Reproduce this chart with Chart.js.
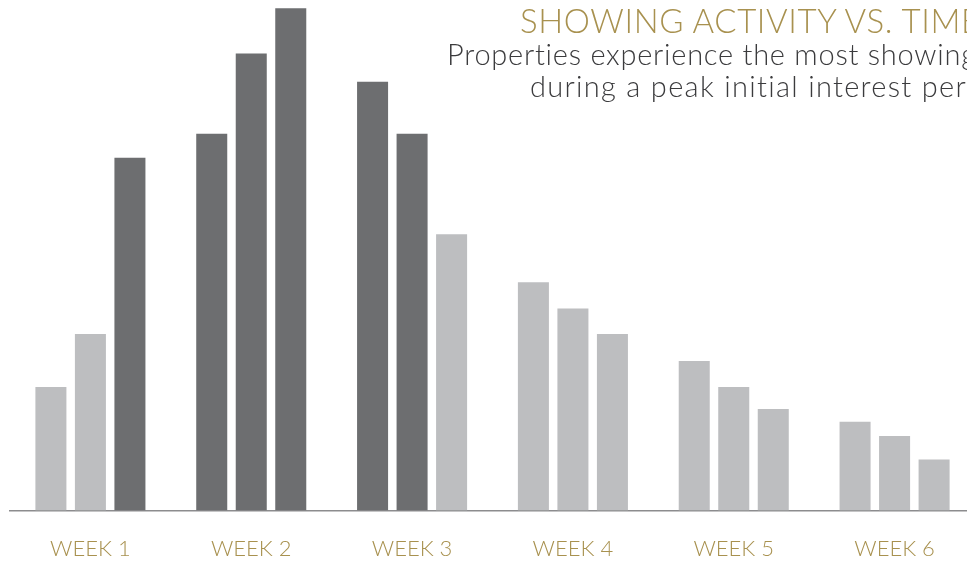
<!DOCTYPE html>
<html>
<head>
<meta charset="utf-8">
<script src="https://cdn.jsdelivr.net/npm/chart.js@4.4.1/dist/chart.umd.min.js"></script>
<style>
  html, body { margin: 0; padding: 0; background: #fff; overflow: hidden; }
  #wrap { position: relative; width: 975px; height: 562px; overflow: hidden; }
  .txt { position: absolute; white-space: nowrap; font-family: Lato, sans-serif; font-weight: 300; }
  #title { left: 520px; top: 0px; font-size: 33px; color: #a8914f; letter-spacing: 0.6px; }
  #sub1 { left: 447px; top: 36px; font-size: 29px; color: #3b3b3d; letter-spacing: 0.75px; }
  #sub2 { left: 530px; top: 68px; font-size: 29px; color: #3b3b3d; letter-spacing: 1.3px; }
</style>
</head>
<body>
<div id="wrap">
  <canvas id="bars" width="975" height="587"></canvas>
  <div class="txt" id="title">SHOWING ACTIVITY VS. TIME</div>
  <div class="txt" id="sub1">Properties experience the most showings</div>
  <div class="txt" id="sub2">during a peak initial interest period.</div>
</div>
<script>
// data
const weeks = ['WEEK 1', 'WEEK 2', 'WEEK 3', 'WEEK 4', 'WEEK 5', 'WEEK 6'];
const firstBar = [24.2, 73.8, 84.0, 44.7, 29.3, 17.4];
const secondBar = [34.6, 89.5, 73.8, 39.6, 24.2, 14.6];
const thirdBar = [69.1, 98.4, 54.1, 34.6, 19.9, 10.0];

// colours
const dark = '#6d6e70';
const light = '#bdbec0';
const firstColors = [light, dark, dark, light, light, light];
const secondColors = [light, dark, dark, light, light, light];
const thirdColors = [dark, dark, light, light, light, light];

function barSet(values, colors) {
  return {
    data: values,
    backgroundColor: colors,
    borderWidth: 0,
    categoryPercentage: 0.737,
    barPercentage: 0.785
  };
}

let ctx = document.getElementById('bars');

let chart = new Chart(ctx, {
  type: 'bar',
  data: {
    labels: weeks,
    datasets: [
      barSet(firstBar, firstColors),
      barSet(secondBar, secondColors),
      barSet(thirdBar, thirdColors)
    ]
  },
  options: {
    responsive: false,
    animation: false,
    layout: { padding: { left: 10, right: 0, top: 0, bottom: 0 } },
    plugins: {
      legend: { display: false },
      tooltip: { enabled: false }
    },
    scales: {
      x: {
        grid: { display: false, drawTicks: false },
        border: { display: true, color: '#8c8c8e', width: 1.5 },
        ticks: {
          color: '#a8914f',
          padding: 25,
          font: { family: 'Lato', weight: 300, size: 22 }
        }
      },
      y: {
        display: false,
        min: 0,
        max: 100
      }
    }
  }
});
</script>
</body>
</html>
